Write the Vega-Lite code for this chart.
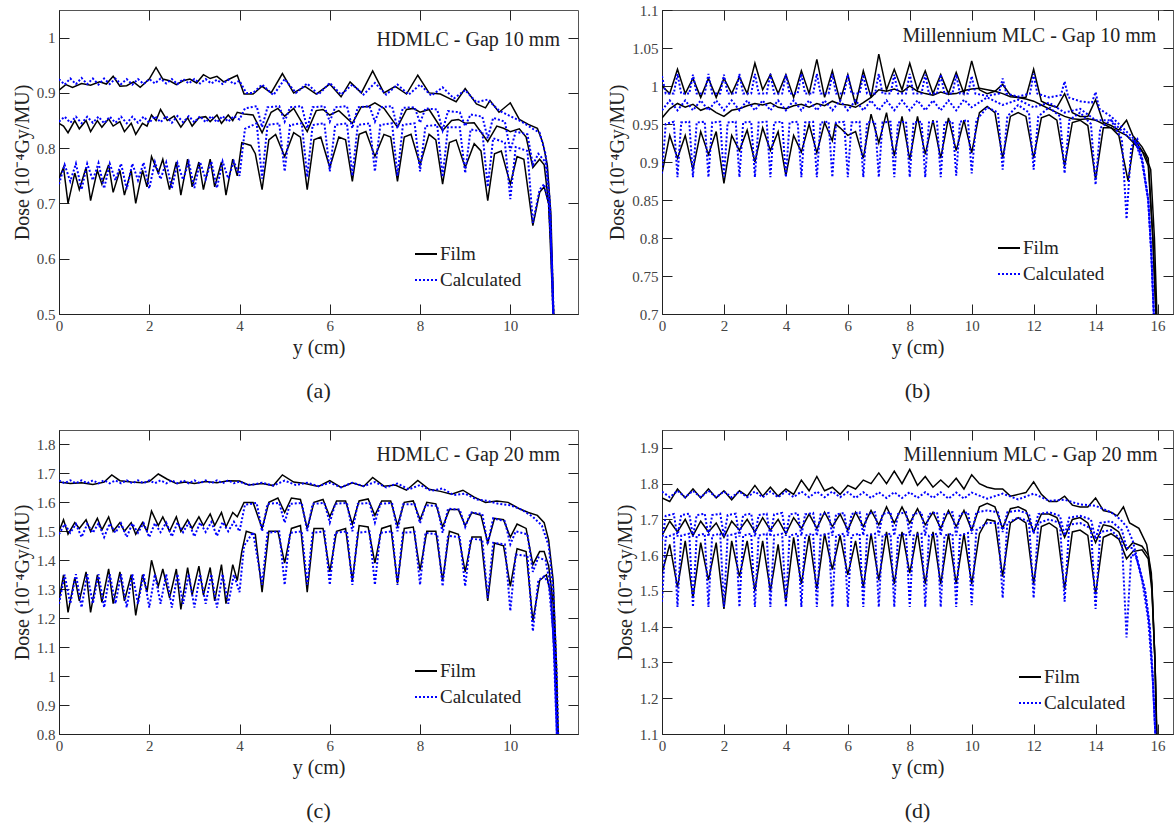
{
"$schema":"https://vega.github.io/schema/vega-lite/v6.json",
"background":"white",
"padding":{"left":11,"top":2,"right":0,"bottom":0},
"config":{
"font":"Liberation Serif",
"view":{"stroke":"#555","strokeWidth":1},
"axis":{"grid":false,"domainColor":"#222","tickColor":"#222","tickSize":-10,"labelFont":"Liberation Serif","labelFontSize":15,"labelColor":"#444","labelPadding":14,"titleFont":"Liberation Serif","titleFontSize":20,"titleFontWeight":"normal","titleColor":"#222","labelFlush":false,"labelOverlap":false,"titlePadding":4},
"legend":{"labelFont":"Liberation Serif","labelFontSize":19,"labelColor":"#222","symbolType":"stroke","symbolSize":484,"symbolStrokeWidth":1.8,"labelOffset":2,"rowPadding":4,"padding":0},
"title":{"font":"Liberation Serif","fontSize":22,"fontWeight":"normal","color":"#222","orient":"bottom","offset":24},
"text":{"font":"Liberation Serif"}
},
"columns":2,
"bounds":"flush",
"spacing":{"row":116,"column":84},
"resolve":{"scale":{"color":"independent"},"legend":{"color":"independent"}},
"datasets":{
"aF1":[{"x":0,"y":0.905},{"x":0.15,"y":0.915},{"x":0.3,"y":0.91},{"x":0.5,"y":0.917},{"x":0.7,"y":0.914},{"x":0.9,"y":0.92},{"x":1.05,"y":0.916},{"x":1.2,"y":0.93},{"x":1.35,"y":0.912},{"x":1.5,"y":0.913},{"x":1.65,"y":0.92},{"x":1.8,"y":0.91},{"x":2,"y":0.925},{"x":2.15,"y":0.946},{"x":2.3,"y":0.925},{"x":2.45,"y":0.922},{"x":2.6,"y":0.915},{"x":2.75,"y":0.922},{"x":2.9,"y":0.925},{"x":3.05,"y":0.918},{"x":3.2,"y":0.933},{"x":3.35,"y":0.926},{"x":3.5,"y":0.93},{"x":3.65,"y":0.92},{"x":3.8,"y":0.926},{"x":3.95,"y":0.932},{"x":4.1,"y":0.898},{"x":4.3,"y":0.898},{"x":4.5,"y":0.912},{"x":4.7,"y":0.9},{"x":4.95,"y":0.935},{"x":5.2,"y":0.9},{"x":5.45,"y":0.912},{"x":5.7,"y":0.898},{"x":6,"y":0.916},{"x":6.25,"y":0.893},{"x":6.45,"y":0.92},{"x":6.7,"y":0.9},{"x":6.95,"y":0.94},{"x":7.2,"y":0.9},{"x":7.45,"y":0.912},{"x":7.7,"y":0.898},{"x":7.95,"y":0.932},{"x":8.2,"y":0.9},{"x":8.45,"y":0.898},{"x":8.6,"y":0.892},{"x":8.8,"y":0.884},{"x":9,"y":0.908},{"x":9.25,"y":0.88},{"x":9.45,"y":0.873},{"x":9.55,"y":0.886},{"x":9.75,"y":0.865},{"x":10,"y":0.882},{"x":10.2,"y":0.852},{"x":10.4,"y":0.843},{"x":10.6,"y":0.836},{"x":10.72,"y":0.81},{"x":10.82,"y":0.77},{"x":10.9,"y":0.68},{"x":10.96,"y":0.5}],
"aF2":[{"x":0,"y":0.845},{"x":0.1,"y":0.84},{"x":0.2,"y":0.828},{"x":0.35,"y":0.85},{"x":0.45,"y":0.835},{"x":0.6,"y":0.85},{"x":0.7,"y":0.83},{"x":0.85,"y":0.85},{"x":0.95,"y":0.838},{"x":1.1,"y":0.853},{"x":1.2,"y":0.84},{"x":1.35,"y":0.848},{"x":1.45,"y":0.83},{"x":1.6,"y":0.845},{"x":1.7,"y":0.825},{"x":1.85,"y":0.845},{"x":1.95,"y":0.84},{"x":2.05,"y":0.86},{"x":2.15,"y":0.85},{"x":2.25,"y":0.87},{"x":2.4,"y":0.85},{"x":2.55,"y":0.858},{"x":2.7,"y":0.838},{"x":2.85,"y":0.855},{"x":2.95,"y":0.84},{"x":3.1,"y":0.855},{"x":3.25,"y":0.857},{"x":3.35,"y":0.848},{"x":3.5,"y":0.86},{"x":3.6,"y":0.845},{"x":3.75,"y":0.86},{"x":3.85,"y":0.85},{"x":3.95,"y":0.865},{"x":4.1,"y":0.862},{"x":4.3,"y":0.86},{"x":4.5,"y":0.828},{"x":4.7,"y":0.865},{"x":4.85,"y":0.872},{"x":5,"y":0.858},{"x":5.2,"y":0.872},{"x":5.5,"y":0.83},{"x":5.7,"y":0.868},{"x":5.85,"y":0.87},{"x":6,"y":0.86},{"x":6.2,"y":0.868},{"x":6.5,"y":0.845},{"x":6.7,"y":0.875},{"x":6.85,"y":0.875},{"x":7,"y":0.882},{"x":7.2,"y":0.872},{"x":7.5,"y":0.838},{"x":7.7,"y":0.87},{"x":7.85,"y":0.872},{"x":8,"y":0.865},{"x":8.2,"y":0.87},{"x":8.5,"y":0.832},{"x":8.7,"y":0.85},{"x":8.85,"y":0.852},{"x":9,"y":0.845},{"x":9.2,"y":0.846},{"x":9.5,"y":0.812},{"x":9.7,"y":0.84},{"x":9.85,"y":0.836},{"x":10,"y":0.83},{"x":10.2,"y":0.835},{"x":10.35,"y":0.82},{"x":10.5,"y":0.765},{"x":10.65,"y":0.78},{"x":10.75,"y":0.77},{"x":10.85,"y":0.7},{"x":10.95,"y":0.5}],
"aF3":[{"x":0,"y":0.745},{"x":0.1,"y":0.765},{"x":0.2,"y":0.7},{"x":0.35,"y":0.755},{"x":0.45,"y":0.725},{"x":0.6,"y":0.765},{"x":0.7,"y":0.705},{"x":0.85,"y":0.76},{"x":0.95,"y":0.735},{"x":1.1,"y":0.77},{"x":1.2,"y":0.72},{"x":1.35,"y":0.76},{"x":1.45,"y":0.715},{"x":1.6,"y":0.76},{"x":1.7,"y":0.7},{"x":1.85,"y":0.76},{"x":1.95,"y":0.73},{"x":2.05,"y":0.785},{"x":2.2,"y":0.755},{"x":2.3,"y":0.78},{"x":2.45,"y":0.725},{"x":2.6,"y":0.775},{"x":2.7,"y":0.715},{"x":2.85,"y":0.78},{"x":2.95,"y":0.73},{"x":3.1,"y":0.775},{"x":3.2,"y":0.725},{"x":3.35,"y":0.78},{"x":3.45,"y":0.73},{"x":3.6,"y":0.775},{"x":3.7,"y":0.715},{"x":3.85,"y":0.78},{"x":3.95,"y":0.75},{"x":4.05,"y":0.81},{"x":4.25,"y":0.805},{"x":4.35,"y":0.79},{"x":4.5,"y":0.725},{"x":4.65,"y":0.815},{"x":4.8,"y":0.825},{"x":5,"y":0.785},{"x":5.2,"y":0.828},{"x":5.35,"y":0.82},{"x":5.5,"y":0.725},{"x":5.65,"y":0.815},{"x":5.8,"y":0.82},{"x":6,"y":0.765},{"x":6.2,"y":0.82},{"x":6.35,"y":0.815},{"x":6.5,"y":0.74},{"x":6.65,"y":0.825},{"x":6.8,"y":0.83},{"x":7,"y":0.785},{"x":7.2,"y":0.825},{"x":7.35,"y":0.82},{"x":7.5,"y":0.74},{"x":7.65,"y":0.82},{"x":7.8,"y":0.825},{"x":8,"y":0.77},{"x":8.2,"y":0.825},{"x":8.35,"y":0.815},{"x":8.5,"y":0.735},{"x":8.65,"y":0.81},{"x":8.8,"y":0.815},{"x":9,"y":0.765},{"x":9.2,"y":0.808},{"x":9.35,"y":0.795},{"x":9.5,"y":0.705},{"x":9.65,"y":0.79},{"x":9.8,"y":0.795},{"x":10,"y":0.735},{"x":10.15,"y":0.785},{"x":10.3,"y":0.78},{"x":10.5,"y":0.66},{"x":10.65,"y":0.72},{"x":10.75,"y":0.73},{"x":10.85,"y":0.7},{"x":10.92,"y":0.6},{"x":10.96,"y":0.5}],
"aC1":[{"x":0,"y":0.925},{"x":0.125,"y":0.915},{"x":0.25,"y":0.926},{"x":0.375,"y":0.916},{"x":0.5,"y":0.927},{"x":0.625,"y":0.916},{"x":0.75,"y":0.926},{"x":0.875,"y":0.915},{"x":1,"y":0.926},{"x":1.125,"y":0.916},{"x":1.25,"y":0.926},{"x":1.375,"y":0.916},{"x":1.5,"y":0.925},{"x":1.625,"y":0.915},{"x":1.75,"y":0.925},{"x":1.875,"y":0.916},{"x":2,"y":0.925},{"x":2.125,"y":0.917},{"x":2.25,"y":0.926},{"x":2.375,"y":0.917},{"x":2.5,"y":0.925},{"x":2.625,"y":0.916},{"x":2.75,"y":0.925},{"x":2.875,"y":0.917},{"x":3,"y":0.925},{"x":3.125,"y":0.917},{"x":3.25,"y":0.925},{"x":3.375,"y":0.917},{"x":3.5,"y":0.924},{"x":3.625,"y":0.916},{"x":3.75,"y":0.924},{"x":3.875,"y":0.916},{"x":4,"y":0.922},{"x":4.15,"y":0.9},{"x":4.3,"y":0.9},{"x":4.5,"y":0.915},{"x":4.75,"y":0.896},{"x":5,"y":0.925},{"x":5.25,"y":0.9},{"x":5.5,"y":0.917},{"x":5.75,"y":0.897},{"x":6,"y":0.918},{"x":6.25,"y":0.897},{"x":6.5,"y":0.915},{"x":6.75,"y":0.897},{"x":7,"y":0.918},{"x":7.25,"y":0.897},{"x":7.5,"y":0.915},{"x":7.75,"y":0.897},{"x":8,"y":0.915},{"x":8.25,"y":0.895},{"x":8.5,"y":0.91},{"x":8.75,"y":0.89},{"x":9,"y":0.905},{"x":9.25,"y":0.883},{"x":9.5,"y":0.888},{"x":9.75,"y":0.868},{"x":10,"y":0.858},{"x":10.25,"y":0.848},{"x":10.5,"y":0.835},{"x":10.65,"y":0.828},{"x":10.78,"y":0.79},{"x":10.88,"y":0.7},{"x":10.95,"y":0.5}],
"aC2":[{"x":0,"y":0.848},{"x":0.125,"y":0.857},{"x":0.25,"y":0.846},{"x":0.375,"y":0.857},{"x":0.5,"y":0.845},{"x":0.625,"y":0.857},{"x":0.75,"y":0.846},{"x":0.875,"y":0.857},{"x":1,"y":0.845},{"x":1.125,"y":0.857},{"x":1.25,"y":0.846},{"x":1.375,"y":0.857},{"x":1.5,"y":0.845},{"x":1.625,"y":0.857},{"x":1.75,"y":0.846},{"x":1.875,"y":0.857},{"x":2,"y":0.846},{"x":2.125,"y":0.858},{"x":2.25,"y":0.847},{"x":2.375,"y":0.858},{"x":2.5,"y":0.846},{"x":2.625,"y":0.858},{"x":2.75,"y":0.847},{"x":2.875,"y":0.858},{"x":3,"y":0.847},{"x":3.125,"y":0.858},{"x":3.25,"y":0.847},{"x":3.375,"y":0.858},{"x":3.5,"y":0.847},{"x":3.625,"y":0.858},{"x":3.75,"y":0.848},{"x":3.875,"y":0.858},{"x":4,"y":0.852},{"x":4.12,"y":0.872},{"x":4.38,"y":0.876},{"x":4.5,"y":0.838},{"x":4.62,"y":0.874},{"x":4.88,"y":0.876},{"x":5,"y":0.848},{"x":5.12,"y":0.874},{"x":5.38,"y":0.876},{"x":5.5,"y":0.836},{"x":5.62,"y":0.874},{"x":5.88,"y":0.876},{"x":6,"y":0.848},{"x":6.12,"y":0.874},{"x":6.38,"y":0.876},{"x":6.5,"y":0.836},{"x":6.62,"y":0.874},{"x":6.88,"y":0.876},{"x":7,"y":0.848},{"x":7.12,"y":0.874},{"x":7.38,"y":0.876},{"x":7.5,"y":0.836},{"x":7.62,"y":0.873},{"x":7.88,"y":0.874},{"x":8,"y":0.846},{"x":8.12,"y":0.872},{"x":8.38,"y":0.87},{"x":8.5,"y":0.832},{"x":8.62,"y":0.867},{"x":8.88,"y":0.865},{"x":9,"y":0.84},{"x":9.12,"y":0.861},{"x":9.38,"y":0.857},{"x":9.5,"y":0.818},{"x":9.62,"y":0.855},{"x":9.88,"y":0.848},{"x":10,"y":0.795},{"x":10.12,"y":0.83},{"x":10.38,"y":0.825},{"x":10.5,"y":0.77},{"x":10.62,"y":0.79},{"x":10.78,"y":0.775},{"x":10.88,"y":0.69},{"x":10.95,"y":0.5}],
"aC3":[{"x":0,"y":0.735},{"x":0.125,"y":0.77},{"x":0.25,"y":0.74},{"x":0.375,"y":0.772},{"x":0.5,"y":0.725},{"x":0.625,"y":0.772},{"x":0.75,"y":0.742},{"x":0.875,"y":0.773},{"x":1,"y":0.727},{"x":1.125,"y":0.772},{"x":1.25,"y":0.742},{"x":1.375,"y":0.772},{"x":1.5,"y":0.726},{"x":1.625,"y":0.772},{"x":1.75,"y":0.742},{"x":1.875,"y":0.774},{"x":2,"y":0.727},{"x":2.125,"y":0.775},{"x":2.25,"y":0.744},{"x":2.375,"y":0.774},{"x":2.5,"y":0.727},{"x":2.625,"y":0.773},{"x":2.75,"y":0.743},{"x":2.875,"y":0.775},{"x":3,"y":0.728},{"x":3.125,"y":0.775},{"x":3.25,"y":0.744},{"x":3.375,"y":0.776},{"x":3.5,"y":0.728},{"x":3.625,"y":0.776},{"x":3.75,"y":0.745},{"x":3.875,"y":0.776},{"x":4,"y":0.75},{"x":4.12,"y":0.835},{"x":4.38,"y":0.845},{"x":4.5,"y":0.745},{"x":4.62,"y":0.842},{"x":4.88,"y":0.845},{"x":5,"y":0.758},{"x":5.12,"y":0.842},{"x":5.38,"y":0.845},{"x":5.5,"y":0.748},{"x":5.62,"y":0.842},{"x":5.88,"y":0.845},{"x":6,"y":0.758},{"x":6.12,"y":0.842},{"x":6.38,"y":0.845},{"x":6.5,"y":0.75},{"x":6.62,"y":0.842},{"x":6.88,"y":0.845},{"x":7,"y":0.758},{"x":7.12,"y":0.842},{"x":7.38,"y":0.845},{"x":7.5,"y":0.75},{"x":7.62,"y":0.842},{"x":7.88,"y":0.845},{"x":8,"y":0.758},{"x":8.12,"y":0.84},{"x":8.38,"y":0.842},{"x":8.5,"y":0.748},{"x":8.62,"y":0.838},{"x":8.88,"y":0.838},{"x":9,"y":0.755},{"x":9.12,"y":0.834},{"x":9.38,"y":0.83},{"x":9.5,"y":0.73},{"x":9.62,"y":0.818},{"x":9.88,"y":0.81},{"x":10,"y":0.708},{"x":10.12,"y":0.802},{"x":10.38,"y":0.795},{"x":10.5,"y":0.665},{"x":10.65,"y":0.725},{"x":10.75,"y":0.735},{"x":10.85,"y":0.7},{"x":10.92,"y":0.6},{"x":10.96,"y":0.5}],
"bF1":[{"x":0,"y":1.0},{"x":0.25,"y":0.99},{"x":0.5,"y":1.022},{"x":0.75,"y":0.99},{"x":1,"y":1.01},{"x":1.25,"y":0.985},{"x":1.5,"y":1.01},{"x":1.75,"y":0.985},{"x":2,"y":1.01},{"x":2.25,"y":0.99},{"x":2.5,"y":1.012},{"x":2.75,"y":0.99},{"x":3,"y":1.03},{"x":3.25,"y":0.995},{"x":3.5,"y":1.015},{"x":3.75,"y":0.99},{"x":4,"y":1.015},{"x":4.25,"y":0.985},{"x":4.5,"y":1.02},{"x":4.75,"y":0.99},{"x":5,"y":1.035},{"x":5.25,"y":0.985},{"x":5.5,"y":1.02},{"x":5.75,"y":0.98},{"x":6,"y":1.015},{"x":6.25,"y":0.975},{"x":6.5,"y":1.02},{"x":6.75,"y":0.985},{"x":7,"y":1.042},{"x":7.25,"y":0.995},{"x":7.5,"y":1.022},{"x":7.75,"y":0.995},{"x":8,"y":1.03},{"x":8.25,"y":0.995},{"x":8.5,"y":1.02},{"x":8.75,"y":0.99},{"x":9,"y":1.015},{"x":9.25,"y":0.99},{"x":9.5,"y":1.018},{"x":9.75,"y":0.99},{"x":10,"y":1.033},{"x":10.25,"y":0.995},{"x":10.5,"y":0.99},{"x":10.75,"y":0.993},{"x":11,"y":1.002},{"x":11.25,"y":0.988},{"x":11.5,"y":0.985},{"x":11.75,"y":0.985},{"x":12,"y":1.022},{"x":12.25,"y":0.98},{"x":12.5,"y":0.975},{"x":12.75,"y":0.972},{"x":13,"y":0.99},{"x":13.25,"y":0.965},{"x":13.5,"y":0.96},{"x":13.75,"y":0.96},{"x":14,"y":0.982},{"x":14.25,"y":0.952},{"x":14.5,"y":0.948},{"x":14.75,"y":0.942},{"x":15,"y":0.955},{"x":15.2,"y":0.935},{"x":15.5,"y":0.92},{"x":15.7,"y":0.905},{"x":15.85,"y":0.8},{"x":15.95,"y":0.7}],
"bF2":[{"x":0,"y":0.958},{"x":0.25,"y":0.97},{"x":0.5,"y":0.977},{"x":0.75,"y":0.972},{"x":1,"y":0.976},{"x":1.25,"y":0.968},{"x":1.5,"y":0.972},{"x":1.75,"y":0.965},{"x":2,"y":0.96},{"x":2.25,"y":0.968},{"x":2.5,"y":0.97},{"x":2.75,"y":0.974},{"x":3,"y":0.977},{"x":3.25,"y":0.975},{"x":3.5,"y":0.978},{"x":3.75,"y":0.972},{"x":4,"y":0.97},{"x":4.25,"y":0.974},{"x":4.5,"y":0.976},{"x":4.75,"y":0.972},{"x":5,"y":0.977},{"x":5.25,"y":0.974},{"x":5.5,"y":0.98},{"x":5.75,"y":0.976},{"x":6,"y":0.975},{"x":6.25,"y":0.972},{"x":6.5,"y":0.978},{"x":6.75,"y":0.985},{"x":7,"y":0.995},{"x":7.25,"y":0.993},{"x":7.5,"y":0.996},{"x":7.75,"y":0.992},{"x":8,"y":1.0},{"x":8.25,"y":0.993},{"x":8.5,"y":0.99},{"x":8.75,"y":0.988},{"x":9,"y":0.992},{"x":9.25,"y":0.989},{"x":9.5,"y":0.99},{"x":9.75,"y":0.994},{"x":10,"y":0.996},{"x":10.25,"y":0.997},{"x":10.5,"y":0.995},{"x":10.75,"y":0.993},{"x":11,"y":0.99},{"x":11.25,"y":0.986},{"x":11.5,"y":0.985},{"x":11.75,"y":0.983},{"x":12,"y":0.98},{"x":12.25,"y":0.975},{"x":12.5,"y":0.97},{"x":12.75,"y":0.965},{"x":13,"y":0.96},{"x":13.25,"y":0.957},{"x":13.5,"y":0.956},{"x":13.75,"y":0.957},{"x":14,"y":0.955},{"x":14.25,"y":0.95},{"x":14.5,"y":0.945},{"x":14.75,"y":0.94},{"x":15,"y":0.935},{"x":15.3,"y":0.922},{"x":15.6,"y":0.91},{"x":15.78,"y":0.89},{"x":15.9,"y":0.8},{"x":15.98,"y":0.7}],
"bF3":[{"x":0,"y":0.885},{"x":0.25,"y":0.935},{"x":0.5,"y":0.905},{"x":0.75,"y":0.935},{"x":1,"y":0.89},{"x":1.25,"y":0.94},{"x":1.5,"y":0.91},{"x":1.75,"y":0.94},{"x":2,"y":0.872},{"x":2.25,"y":0.935},{"x":2.5,"y":0.915},{"x":2.75,"y":0.942},{"x":3,"y":0.9},{"x":3.25,"y":0.945},{"x":3.5,"y":0.915},{"x":3.75,"y":0.94},{"x":4,"y":0.882},{"x":4.25,"y":0.935},{"x":4.5,"y":0.913},{"x":4.75,"y":0.95},{"x":5,"y":0.912},{"x":5.25,"y":0.952},{"x":5.5,"y":0.928},{"x":5.6,"y":0.95},{"x":5.75,"y":0.945},{"x":6,"y":0.935},{"x":6.25,"y":0.94},{"x":6.5,"y":0.905},{"x":6.75,"y":0.963},{"x":7,"y":0.925},{"x":7.25,"y":0.965},{"x":7.5,"y":0.908},{"x":7.75,"y":0.96},{"x":8,"y":0.903},{"x":8.25,"y":0.96},{"x":8.5,"y":0.91},{"x":8.75,"y":0.955},{"x":9,"y":0.905},{"x":9.25,"y":0.958},{"x":9.5,"y":0.915},{"x":9.75,"y":0.955},{"x":10,"y":0.912},{"x":10.25,"y":0.965},{"x":10.5,"y":0.973},{"x":10.75,"y":0.965},{"x":11,"y":0.905},{"x":11.25,"y":0.96},{"x":11.5,"y":0.965},{"x":11.75,"y":0.96},{"x":12,"y":0.905},{"x":12.25,"y":0.958},{"x":12.5,"y":0.962},{"x":12.75,"y":0.955},{"x":13,"y":0.895},{"x":13.25,"y":0.952},{"x":13.5,"y":0.955},{"x":13.75,"y":0.948},{"x":14,"y":0.877},{"x":14.25,"y":0.945},{"x":14.5,"y":0.945},{"x":14.75,"y":0.935},{"x":15.05,"y":0.875},{"x":15.25,"y":0.93},{"x":15.5,"y":0.915},{"x":15.7,"y":0.895},{"x":15.85,"y":0.8},{"x":15.95,"y":0.7}],
"bC1":[{"x":0,"y":1.013},{"x":0.12,"y":0.99},{"x":0.38,"y":0.99},{"x":0.5,"y":1.016},{"x":0.62,"y":0.99},{"x":0.88,"y":0.99},{"x":1,"y":1.015},{"x":1.12,"y":0.99},{"x":1.38,"y":0.99},{"x":1.5,"y":1.016},{"x":1.62,"y":0.99},{"x":1.88,"y":0.99},{"x":2,"y":1.015},{"x":2.12,"y":0.99},{"x":2.38,"y":0.99},{"x":2.5,"y":1.016},{"x":2.62,"y":0.99},{"x":2.88,"y":0.99},{"x":3,"y":1.016},{"x":3.12,"y":0.99},{"x":3.38,"y":0.99},{"x":3.5,"y":1.016},{"x":3.62,"y":0.99},{"x":3.88,"y":0.99},{"x":4,"y":1.015},{"x":4.12,"y":0.99},{"x":4.38,"y":0.99},{"x":4.5,"y":1.016},{"x":4.62,"y":0.99},{"x":4.88,"y":0.99},{"x":5,"y":1.016},{"x":5.12,"y":0.99},{"x":5.38,"y":0.99},{"x":5.5,"y":1.016},{"x":5.62,"y":0.99},{"x":5.88,"y":0.99},{"x":6,"y":1.015},{"x":6.12,"y":0.99},{"x":6.38,"y":0.99},{"x":6.5,"y":1.015},{"x":6.62,"y":0.99},{"x":6.88,"y":0.99},{"x":7,"y":1.016},{"x":7.12,"y":0.99},{"x":7.38,"y":0.99},{"x":7.5,"y":1.015},{"x":7.62,"y":0.99},{"x":7.88,"y":0.99},{"x":8,"y":1.016},{"x":8.12,"y":0.99},{"x":8.38,"y":0.99},{"x":8.5,"y":1.015},{"x":8.62,"y":0.99},{"x":8.88,"y":0.99},{"x":9,"y":1.015},{"x":9.12,"y":0.99},{"x":9.38,"y":0.99},{"x":9.5,"y":1.015},{"x":9.62,"y":0.99},{"x":9.88,"y":0.99},{"x":10,"y":1.013},{"x":10.12,"y":0.99},{"x":10.5,"y":0.987},{"x":10.88,"y":0.99},{"x":11,"y":1.01},{"x":11.12,"y":0.99},{"x":11.5,"y":0.986},{"x":11.88,"y":0.99},{"x":12,"y":1.016},{"x":12.12,"y":0.99},{"x":12.5,"y":0.985},{"x":12.88,"y":0.988},{"x":13,"y":1.006},{"x":13.12,"y":0.985},{"x":13.5,"y":0.98},{"x":13.88,"y":0.978},{"x":14,"y":0.992},{"x":14.12,"y":0.97},{"x":14.5,"y":0.96},{"x":14.88,"y":0.945},{"x":15,"y":0.94},{"x":15.25,"y":0.93},{"x":15.5,"y":0.905},{"x":15.7,"y":0.85},{"x":15.8,"y":0.78},{"x":15.88,"y":0.7}],
"bC2":[{"x":0,"y":0.968},{"x":0.25,"y":0.981},{"x":0.5,"y":0.968},{"x":0.75,"y":0.981},{"x":1,"y":0.968},{"x":1.25,"y":0.981},{"x":1.5,"y":0.968},{"x":1.75,"y":0.981},{"x":2,"y":0.968},{"x":2.25,"y":0.981},{"x":2.5,"y":0.968},{"x":2.75,"y":0.981},{"x":3,"y":0.968},{"x":3.25,"y":0.981},{"x":3.5,"y":0.968},{"x":3.75,"y":0.981},{"x":4,"y":0.968},{"x":4.25,"y":0.981},{"x":4.5,"y":0.968},{"x":4.75,"y":0.981},{"x":5,"y":0.968},{"x":5.25,"y":0.981},{"x":5.5,"y":0.968},{"x":5.75,"y":0.981},{"x":6,"y":0.968},{"x":6.25,"y":0.981},{"x":6.5,"y":0.968},{"x":6.75,"y":0.981},{"x":7,"y":0.968},{"x":7.25,"y":0.981},{"x":7.5,"y":0.968},{"x":7.75,"y":0.981},{"x":8,"y":0.968},{"x":8.25,"y":0.981},{"x":8.5,"y":0.968},{"x":8.75,"y":0.981},{"x":9,"y":0.968},{"x":9.25,"y":0.981},{"x":9.5,"y":0.968},{"x":9.75,"y":0.982},{"x":10,"y":0.972},{"x":10.5,"y":0.985},{"x":11,"y":0.975},{"x":11.5,"y":0.982},{"x":12,"y":0.972},{"x":12.5,"y":0.978},{"x":13,"y":0.965},{"x":13.5,"y":0.97},{"x":14,"y":0.955},{"x":14.5,"y":0.955},{"x":15,"y":0.935},{"x":15.3,"y":0.925},{"x":15.5,"y":0.9},{"x":15.7,"y":0.85},{"x":15.8,"y":0.78},{"x":15.88,"y":0.7}],
"bC3":[{"x":0,"y":0.885},{"x":0.12,"y":0.95},{"x":0.38,"y":0.953},{"x":0.5,"y":0.88},{"x":0.62,"y":0.952},{"x":0.88,"y":0.953},{"x":1,"y":0.88},{"x":1.12,"y":0.952},{"x":1.38,"y":0.953},{"x":1.5,"y":0.88},{"x":1.62,"y":0.952},{"x":1.88,"y":0.953},{"x":2,"y":0.88},{"x":2.12,"y":0.952},{"x":2.38,"y":0.953},{"x":2.5,"y":0.88},{"x":2.62,"y":0.952},{"x":2.88,"y":0.953},{"x":3,"y":0.88},{"x":3.12,"y":0.952},{"x":3.38,"y":0.953},{"x":3.5,"y":0.88},{"x":3.62,"y":0.952},{"x":3.88,"y":0.953},{"x":4,"y":0.88},{"x":4.12,"y":0.952},{"x":4.38,"y":0.953},{"x":4.5,"y":0.88},{"x":4.62,"y":0.952},{"x":4.88,"y":0.953},{"x":5,"y":0.88},{"x":5.12,"y":0.952},{"x":5.38,"y":0.953},{"x":5.5,"y":0.88},{"x":5.62,"y":0.952},{"x":5.88,"y":0.953},{"x":6,"y":0.88},{"x":6.12,"y":0.952},{"x":6.38,"y":0.953},{"x":6.5,"y":0.88},{"x":6.62,"y":0.952},{"x":6.88,"y":0.953},{"x":7,"y":0.88},{"x":7.12,"y":0.952},{"x":7.38,"y":0.953},{"x":7.5,"y":0.88},{"x":7.62,"y":0.952},{"x":7.88,"y":0.953},{"x":8,"y":0.88},{"x":8.12,"y":0.952},{"x":8.38,"y":0.953},{"x":8.5,"y":0.88},{"x":8.62,"y":0.952},{"x":8.88,"y":0.953},{"x":9,"y":0.88},{"x":9.12,"y":0.952},{"x":9.38,"y":0.953},{"x":9.5,"y":0.882},{"x":9.62,"y":0.953},{"x":9.88,"y":0.955},{"x":10,"y":0.885},{"x":10.15,"y":0.955},{"x":10.5,"y":0.972},{"x":10.85,"y":0.965},{"x":11,"y":0.89},{"x":11.15,"y":0.96},{"x":11.5,"y":0.975},{"x":11.85,"y":0.965},{"x":12,"y":0.89},{"x":12.15,"y":0.96},{"x":12.5,"y":0.972},{"x":12.85,"y":0.96},{"x":13,"y":0.885},{"x":13.15,"y":0.955},{"x":13.5,"y":0.965},{"x":13.85,"y":0.95},{"x":14,"y":0.87},{"x":14.15,"y":0.945},{"x":14.5,"y":0.955},{"x":14.85,"y":0.93},{"x":15,"y":0.825},{"x":15.15,"y":0.92},{"x":15.35,"y":0.93},{"x":15.5,"y":0.905},{"x":15.7,"y":0.85},{"x":15.8,"y":0.78},{"x":15.88,"y":0.7}],
"cF1":[{"x":0,"y":1.67},{"x":0.25,"y":1.665},{"x":0.5,"y":1.668},{"x":0.75,"y":1.662},{"x":1,"y":1.67},{"x":1.17,"y":1.695},{"x":1.35,"y":1.675},{"x":1.6,"y":1.67},{"x":1.85,"y":1.668},{"x":2,"y":1.672},{"x":2.2,"y":1.698},{"x":2.4,"y":1.68},{"x":2.6,"y":1.665},{"x":2.8,"y":1.67},{"x":3,"y":1.665},{"x":3.25,"y":1.672},{"x":3.5,"y":1.668},{"x":3.75,"y":1.675},{"x":4,"y":1.674},{"x":4.2,"y":1.66},{"x":4.5,"y":1.665},{"x":4.75,"y":1.658},{"x":4.95,"y":1.695},{"x":5.2,"y":1.67},{"x":5.45,"y":1.665},{"x":5.75,"y":1.655},{"x":6,"y":1.675},{"x":6.25,"y":1.652},{"x":6.5,"y":1.668},{"x":6.75,"y":1.655},{"x":6.95,"y":1.686},{"x":7.2,"y":1.656},{"x":7.45,"y":1.66},{"x":7.7,"y":1.642},{"x":7.95,"y":1.676},{"x":8.2,"y":1.645},{"x":8.45,"y":1.638},{"x":8.7,"y":1.628},{"x":8.95,"y":1.642},{"x":9.2,"y":1.618},{"x":9.45,"y":1.6},{"x":9.7,"y":1.605},{"x":9.95,"y":1.6},{"x":10.2,"y":1.578},{"x":10.4,"y":1.565},{"x":10.6,"y":1.555},{"x":10.75,"y":1.53},{"x":10.85,"y":1.47},{"x":10.95,"y":1.33},{"x":11.02,"y":1.05},{"x":11.06,"y":0.8}],
"cF2":[{"x":0,"y":1.5},{"x":0.1,"y":1.54},{"x":0.2,"y":1.49},{"x":0.35,"y":1.53},{"x":0.45,"y":1.51},{"x":0.6,"y":1.54},{"x":0.7,"y":1.5},{"x":0.85,"y":1.545},{"x":0.95,"y":1.505},{"x":1.1,"y":1.55},{"x":1.2,"y":1.5},{"x":1.35,"y":1.53},{"x":1.45,"y":1.5},{"x":1.6,"y":1.53},{"x":1.7,"y":1.49},{"x":1.85,"y":1.53},{"x":1.95,"y":1.5},{"x":2.05,"y":1.57},{"x":2.2,"y":1.52},{"x":2.3,"y":1.55},{"x":2.45,"y":1.5},{"x":2.6,"y":1.55},{"x":2.7,"y":1.5},{"x":2.85,"y":1.54},{"x":2.95,"y":1.51},{"x":3.1,"y":1.55},{"x":3.2,"y":1.52},{"x":3.35,"y":1.56},{"x":3.45,"y":1.52},{"x":3.6,"y":1.565},{"x":3.7,"y":1.515},{"x":3.85,"y":1.565},{"x":3.95,"y":1.55},{"x":4.1,"y":1.6},{"x":4.3,"y":1.6},{"x":4.5,"y":1.51},{"x":4.65,"y":1.6},{"x":4.85,"y":1.615},{"x":5,"y":1.565},{"x":5.15,"y":1.615},{"x":5.35,"y":1.61},{"x":5.5,"y":1.51},{"x":5.65,"y":1.6},{"x":5.85,"y":1.61},{"x":6,"y":1.55},{"x":6.15,"y":1.605},{"x":6.35,"y":1.605},{"x":6.5,"y":1.525},{"x":6.65,"y":1.605},{"x":6.85,"y":1.612},{"x":7,"y":1.555},{"x":7.15,"y":1.605},{"x":7.35,"y":1.605},{"x":7.5,"y":1.52},{"x":7.65,"y":1.6},{"x":7.85,"y":1.605},{"x":8,"y":1.54},{"x":8.15,"y":1.6},{"x":8.35,"y":1.595},{"x":8.5,"y":1.515},{"x":8.65,"y":1.575},{"x":8.85,"y":1.575},{"x":9,"y":1.52},{"x":9.15,"y":1.565},{"x":9.35,"y":1.555},{"x":9.5,"y":1.46},{"x":9.65,"y":1.545},{"x":9.85,"y":1.54},{"x":10,"y":1.48},{"x":10.15,"y":1.525},{"x":10.35,"y":1.51},{"x":10.5,"y":1.385},{"x":10.65,"y":1.43},{"x":10.75,"y":1.43},{"x":10.85,"y":1.38},{"x":10.95,"y":1.25},{"x":11.02,"y":1.0},{"x":11.05,"y":0.8}],
"cF3":[{"x":0,"y":1.26},{"x":0.1,"y":1.35},{"x":0.2,"y":1.22},{"x":0.35,"y":1.34},{"x":0.45,"y":1.26},{"x":0.6,"y":1.36},{"x":0.7,"y":1.22},{"x":0.85,"y":1.35},{"x":0.95,"y":1.255},{"x":1.1,"y":1.37},{"x":1.2,"y":1.25},{"x":1.35,"y":1.36},{"x":1.45,"y":1.26},{"x":1.6,"y":1.35},{"x":1.7,"y":1.21},{"x":1.85,"y":1.35},{"x":1.95,"y":1.29},{"x":2.05,"y":1.4},{"x":2.2,"y":1.31},{"x":2.3,"y":1.37},{"x":2.45,"y":1.27},{"x":2.6,"y":1.37},{"x":2.7,"y":1.23},{"x":2.85,"y":1.375},{"x":2.95,"y":1.28},{"x":3.1,"y":1.38},{"x":3.2,"y":1.28},{"x":3.35,"y":1.375},{"x":3.45,"y":1.26},{"x":3.6,"y":1.385},{"x":3.7,"y":1.25},{"x":3.85,"y":1.385},{"x":3.95,"y":1.33},{"x":4.05,"y":1.43},{"x":4.15,"y":1.5},{"x":4.35,"y":1.49},{"x":4.5,"y":1.29},{"x":4.65,"y":1.5},{"x":4.85,"y":1.5},{"x":5,"y":1.39},{"x":5.15,"y":1.51},{"x":5.35,"y":1.52},{"x":5.5,"y":1.29},{"x":5.65,"y":1.51},{"x":5.85,"y":1.51},{"x":6,"y":1.36},{"x":6.15,"y":1.5},{"x":6.35,"y":1.51},{"x":6.5,"y":1.33},{"x":6.65,"y":1.52},{"x":6.85,"y":1.515},{"x":7,"y":1.39},{"x":7.15,"y":1.51},{"x":7.35,"y":1.52},{"x":7.5,"y":1.32},{"x":7.65,"y":1.51},{"x":7.85,"y":1.515},{"x":8,"y":1.365},{"x":8.15,"y":1.5},{"x":8.35,"y":1.5},{"x":8.5,"y":1.33},{"x":8.65,"y":1.5},{"x":8.85,"y":1.49},{"x":9,"y":1.36},{"x":9.15,"y":1.48},{"x":9.35,"y":1.48},{"x":9.5,"y":1.26},{"x":9.65,"y":1.46},{"x":9.85,"y":1.45},{"x":10,"y":1.31},{"x":10.15,"y":1.44},{"x":10.35,"y":1.43},{"x":10.5,"y":1.19},{"x":10.65,"y":1.33},{"x":10.8,"y":1.35},{"x":10.9,"y":1.28},{"x":11,"y":1.0},{"x":11.05,"y":0.8}],
"cC1":[{"x":0,"y":1.676},{"x":0.125,"y":1.666},{"x":0.25,"y":1.676},{"x":0.375,"y":1.666},{"x":0.5,"y":1.676},{"x":0.625,"y":1.666},{"x":0.75,"y":1.676},{"x":0.875,"y":1.666},{"x":1,"y":1.676},{"x":1.125,"y":1.666},{"x":1.25,"y":1.676},{"x":1.375,"y":1.666},{"x":1.5,"y":1.676},{"x":1.625,"y":1.666},{"x":1.75,"y":1.676},{"x":1.875,"y":1.666},{"x":2,"y":1.676},{"x":2.125,"y":1.666},{"x":2.25,"y":1.676},{"x":2.375,"y":1.666},{"x":2.5,"y":1.676},{"x":2.625,"y":1.666},{"x":2.75,"y":1.676},{"x":2.875,"y":1.666},{"x":3,"y":1.676},{"x":3.125,"y":1.666},{"x":3.25,"y":1.676},{"x":3.375,"y":1.666},{"x":3.5,"y":1.676},{"x":3.625,"y":1.666},{"x":3.75,"y":1.676},{"x":3.875,"y":1.666},{"x":4,"y":1.672},{"x":4.1,"y":1.665},{"x":4.25,"y":1.66},{"x":4.5,"y":1.668},{"x":4.75,"y":1.658},{"x":5,"y":1.675},{"x":5.25,"y":1.66},{"x":5.5,"y":1.668},{"x":5.75,"y":1.656},{"x":6,"y":1.668},{"x":6.25,"y":1.652},{"x":6.5,"y":1.668},{"x":6.75,"y":1.656},{"x":7,"y":1.67},{"x":7.25,"y":1.652},{"x":7.5,"y":1.665},{"x":7.75,"y":1.645},{"x":8,"y":1.66},{"x":8.25,"y":1.64},{"x":8.5,"y":1.648},{"x":8.75,"y":1.625},{"x":9,"y":1.63},{"x":9.25,"y":1.61},{"x":9.5,"y":1.605},{"x":9.75,"y":1.595},{"x":10,"y":1.59},{"x":10.25,"y":1.575},{"x":10.5,"y":1.55},{"x":10.7,"y":1.52},{"x":10.85,"y":1.45},{"x":10.95,"y":1.3},{"x":11.03,"y":1.0},{"x":11.06,"y":0.8}],
"cC2":[{"x":0,"y":1.49},{"x":0.125,"y":1.525},{"x":0.25,"y":1.495},{"x":0.375,"y":1.525},{"x":0.5,"y":1.48},{"x":0.625,"y":1.525},{"x":0.75,"y":1.495},{"x":0.875,"y":1.527},{"x":1,"y":1.48},{"x":1.125,"y":1.527},{"x":1.25,"y":1.495},{"x":1.375,"y":1.527},{"x":1.5,"y":1.48},{"x":1.625,"y":1.527},{"x":1.75,"y":1.495},{"x":1.875,"y":1.528},{"x":2,"y":1.48},{"x":2.125,"y":1.528},{"x":2.25,"y":1.497},{"x":2.375,"y":1.53},{"x":2.5,"y":1.482},{"x":2.625,"y":1.53},{"x":2.75,"y":1.497},{"x":2.875,"y":1.53},{"x":3,"y":1.482},{"x":3.125,"y":1.53},{"x":3.25,"y":1.498},{"x":3.375,"y":1.532},{"x":3.5,"y":1.484},{"x":3.625,"y":1.532},{"x":3.75,"y":1.5},{"x":3.875,"y":1.533},{"x":4,"y":1.5},{"x":4.12,"y":1.592},{"x":4.38,"y":1.598},{"x":4.5,"y":1.5},{"x":4.62,"y":1.595},{"x":4.88,"y":1.598},{"x":5,"y":1.53},{"x":5.12,"y":1.595},{"x":5.38,"y":1.598},{"x":5.5,"y":1.5},{"x":5.62,"y":1.595},{"x":5.88,"y":1.598},{"x":6,"y":1.53},{"x":6.12,"y":1.595},{"x":6.38,"y":1.598},{"x":6.5,"y":1.5},{"x":6.62,"y":1.595},{"x":6.88,"y":1.598},{"x":7,"y":1.53},{"x":7.12,"y":1.595},{"x":7.38,"y":1.598},{"x":7.5,"y":1.5},{"x":7.62,"y":1.593},{"x":7.88,"y":1.594},{"x":8,"y":1.528},{"x":8.12,"y":1.59},{"x":8.38,"y":1.588},{"x":8.5,"y":1.495},{"x":8.62,"y":1.578},{"x":8.88,"y":1.575},{"x":9,"y":1.515},{"x":9.12,"y":1.565},{"x":9.38,"y":1.56},{"x":9.5,"y":1.455},{"x":9.62,"y":1.545},{"x":9.88,"y":1.535},{"x":10,"y":1.455},{"x":10.12,"y":1.5},{"x":10.38,"y":1.49},{"x":10.5,"y":1.36},{"x":10.62,"y":1.41},{"x":10.78,"y":1.4},{"x":10.88,"y":1.32},{"x":10.97,"y":1.1},{"x":11.03,"y":0.8}],
"cC3":[{"x":0,"y":1.25},{"x":0.125,"y":1.35},{"x":0.25,"y":1.25},{"x":0.375,"y":1.352},{"x":0.5,"y":1.237},{"x":0.625,"y":1.352},{"x":0.75,"y":1.25},{"x":0.875,"y":1.352},{"x":1,"y":1.237},{"x":1.125,"y":1.352},{"x":1.25,"y":1.25},{"x":1.375,"y":1.352},{"x":1.5,"y":1.237},{"x":1.625,"y":1.352},{"x":1.75,"y":1.25},{"x":1.875,"y":1.352},{"x":2,"y":1.237},{"x":2.125,"y":1.352},{"x":2.25,"y":1.25},{"x":2.375,"y":1.352},{"x":2.5,"y":1.237},{"x":2.625,"y":1.352},{"x":2.75,"y":1.25},{"x":2.875,"y":1.352},{"x":3,"y":1.237},{"x":3.125,"y":1.352},{"x":3.25,"y":1.25},{"x":3.375,"y":1.352},{"x":3.5,"y":1.237},{"x":3.625,"y":1.352},{"x":3.75,"y":1.25},{"x":3.875,"y":1.35},{"x":4,"y":1.29},{"x":4.1,"y":1.45},{"x":4.3,"y":1.497},{"x":4.5,"y":1.315},{"x":4.62,"y":1.495},{"x":4.88,"y":1.5},{"x":5,"y":1.315},{"x":5.12,"y":1.495},{"x":5.38,"y":1.5},{"x":5.5,"y":1.315},{"x":5.62,"y":1.495},{"x":5.88,"y":1.5},{"x":6,"y":1.315},{"x":6.12,"y":1.495},{"x":6.38,"y":1.5},{"x":6.5,"y":1.315},{"x":6.62,"y":1.495},{"x":6.88,"y":1.5},{"x":7,"y":1.315},{"x":7.12,"y":1.495},{"x":7.38,"y":1.5},{"x":7.5,"y":1.315},{"x":7.62,"y":1.495},{"x":7.88,"y":1.498},{"x":8,"y":1.315},{"x":8.12,"y":1.495},{"x":8.38,"y":1.49},{"x":8.5,"y":1.31},{"x":8.62,"y":1.485},{"x":8.88,"y":1.48},{"x":9,"y":1.31},{"x":9.12,"y":1.475},{"x":9.38,"y":1.47},{"x":9.5,"y":1.27},{"x":9.62,"y":1.46},{"x":9.88,"y":1.455},{"x":10,"y":1.225},{"x":10.12,"y":1.42},{"x":10.38,"y":1.415},{"x":10.5,"y":1.155},{"x":10.62,"y":1.33},{"x":10.75,"y":1.345},{"x":10.85,"y":1.32},{"x":10.95,"y":1.15},{"x":11.03,"y":0.8}],
"dF1":[{"x":0,"y":1.76},{"x":0.25,"y":1.75},{"x":0.5,"y":1.785},{"x":0.75,"y":1.76},{"x":1,"y":1.785},{"x":1.25,"y":1.76},{"x":1.5,"y":1.785},{"x":1.75,"y":1.76},{"x":2,"y":1.78},{"x":2.25,"y":1.755},{"x":2.5,"y":1.78},{"x":2.75,"y":1.765},{"x":3,"y":1.795},{"x":3.25,"y":1.765},{"x":3.5,"y":1.79},{"x":3.75,"y":1.765},{"x":4,"y":1.785},{"x":4.25,"y":1.77},{"x":4.5,"y":1.81},{"x":4.75,"y":1.78},{"x":5,"y":1.82},{"x":5.25,"y":1.78},{"x":5.5,"y":1.79},{"x":5.75,"y":1.77},{"x":6,"y":1.795},{"x":6.25,"y":1.785},{"x":6.5,"y":1.81},{"x":6.75,"y":1.8},{"x":7,"y":1.83},{"x":7.25,"y":1.8},{"x":7.5,"y":1.835},{"x":7.75,"y":1.8},{"x":8,"y":1.84},{"x":8.25,"y":1.795},{"x":8.5,"y":1.82},{"x":8.75,"y":1.79},{"x":9,"y":1.81},{"x":9.25,"y":1.79},{"x":9.5,"y":1.815},{"x":9.75,"y":1.785},{"x":10,"y":1.825},{"x":10.25,"y":1.8},{"x":10.5,"y":1.79},{"x":10.75,"y":1.785},{"x":11,"y":1.785},{"x":11.25,"y":1.765},{"x":11.5,"y":1.77},{"x":11.75,"y":1.775},{"x":12,"y":1.805},{"x":12.25,"y":1.77},{"x":12.5,"y":1.75},{"x":12.75,"y":1.75},{"x":13,"y":1.765},{"x":13.25,"y":1.74},{"x":13.5,"y":1.735},{"x":13.75,"y":1.735},{"x":14,"y":1.76},{"x":14.25,"y":1.725},{"x":14.5,"y":1.72},{"x":14.7,"y":1.71},{"x":14.9,"y":1.735},{"x":15.1,"y":1.69},{"x":15.4,"y":1.675},{"x":15.65,"y":1.63},{"x":15.8,"y":1.55},{"x":15.92,"y":1.3},{"x":15.98,"y":1.1}],
"dF2":[{"x":0,"y":1.655},{"x":0.25,"y":1.695},{"x":0.5,"y":1.665},{"x":0.75,"y":1.7},{"x":1,"y":1.655},{"x":1.25,"y":1.695},{"x":1.5,"y":1.665},{"x":1.75,"y":1.69},{"x":2,"y":1.65},{"x":2.25,"y":1.695},{"x":2.5,"y":1.67},{"x":2.75,"y":1.7},{"x":3,"y":1.665},{"x":3.25,"y":1.705},{"x":3.5,"y":1.67},{"x":3.75,"y":1.7},{"x":4,"y":1.66},{"x":4.25,"y":1.705},{"x":4.5,"y":1.675},{"x":4.75,"y":1.715},{"x":5,"y":1.675},{"x":5.25,"y":1.72},{"x":5.5,"y":1.68},{"x":5.75,"y":1.715},{"x":6,"y":1.67},{"x":6.25,"y":1.72},{"x":6.5,"y":1.68},{"x":6.75,"y":1.725},{"x":7,"y":1.685},{"x":7.25,"y":1.735},{"x":7.5,"y":1.69},{"x":7.75,"y":1.735},{"x":8,"y":1.69},{"x":8.25,"y":1.73},{"x":8.5,"y":1.685},{"x":8.75,"y":1.72},{"x":9,"y":1.675},{"x":9.25,"y":1.725},{"x":9.5,"y":1.68},{"x":9.75,"y":1.725},{"x":10,"y":1.67},{"x":10.25,"y":1.735},{"x":10.5,"y":1.745},{"x":10.75,"y":1.735},{"x":11,"y":1.675},{"x":11.25,"y":1.73},{"x":11.5,"y":1.735},{"x":11.75,"y":1.725},{"x":12,"y":1.665},{"x":12.25,"y":1.715},{"x":12.5,"y":1.715},{"x":12.75,"y":1.705},{"x":13,"y":1.65},{"x":13.25,"y":1.7},{"x":13.5,"y":1.705},{"x":13.75,"y":1.69},{"x":14,"y":1.635},{"x":14.25,"y":1.685},{"x":14.5,"y":1.68},{"x":14.75,"y":1.665},{"x":15,"y":1.615},{"x":15.2,"y":1.635},{"x":15.5,"y":1.625},{"x":15.7,"y":1.6},{"x":15.82,"y":1.52},{"x":15.92,"y":1.3},{"x":15.97,"y":1.1}],
"dF3":[{"x":0,"y":1.55},{"x":0.25,"y":1.63},{"x":0.5,"y":1.51},{"x":0.75,"y":1.64},{"x":1,"y":1.48},{"x":1.25,"y":1.635},{"x":1.5,"y":1.53},{"x":1.75,"y":1.635},{"x":2,"y":1.45},{"x":2.25,"y":1.64},{"x":2.5,"y":1.54},{"x":2.75,"y":1.64},{"x":3,"y":1.5},{"x":3.25,"y":1.64},{"x":3.5,"y":1.5},{"x":3.75,"y":1.63},{"x":4,"y":1.47},{"x":4.25,"y":1.65},{"x":4.5,"y":1.52},{"x":4.75,"y":1.655},{"x":5,"y":1.505},{"x":5.25,"y":1.66},{"x":5.5,"y":1.56},{"x":5.75,"y":1.655},{"x":6,"y":1.545},{"x":6.25,"y":1.64},{"x":6.5,"y":1.51},{"x":6.75,"y":1.66},{"x":7,"y":1.53},{"x":7.25,"y":1.665},{"x":7.5,"y":1.52},{"x":7.75,"y":1.665},{"x":8,"y":1.55},{"x":8.25,"y":1.665},{"x":8.5,"y":1.52},{"x":8.75,"y":1.665},{"x":9,"y":1.52},{"x":9.25,"y":1.66},{"x":9.5,"y":1.52},{"x":9.75,"y":1.66},{"x":10,"y":1.52},{"x":10.25,"y":1.66},{"x":10.5,"y":1.7},{"x":10.75,"y":1.695},{"x":11,"y":1.54},{"x":11.25,"y":1.69},{"x":11.5,"y":1.705},{"x":11.75,"y":1.69},{"x":12,"y":1.52},{"x":12.25,"y":1.68},{"x":12.5,"y":1.69},{"x":12.75,"y":1.675},{"x":13,"y":1.505},{"x":13.25,"y":1.665},{"x":13.5,"y":1.67},{"x":13.75,"y":1.655},{"x":14,"y":1.49},{"x":14.25,"y":1.65},{"x":14.5,"y":1.66},{"x":14.75,"y":1.645},{"x":15,"y":1.59},{"x":15.2,"y":1.61},{"x":15.5,"y":1.615},{"x":15.7,"y":1.59},{"x":15.82,"y":1.5},{"x":15.92,"y":1.3},{"x":15.97,"y":1.1}],
"dC1":[{"x":0,"y":1.778},{"x":0.25,"y":1.762},{"x":0.5,"y":1.78},{"x":0.75,"y":1.762},{"x":1,"y":1.78},{"x":1.25,"y":1.762},{"x":1.5,"y":1.78},{"x":1.75,"y":1.762},{"x":2,"y":1.778},{"x":2.25,"y":1.762},{"x":2.5,"y":1.778},{"x":2.75,"y":1.762},{"x":3,"y":1.778},{"x":3.25,"y":1.762},{"x":3.5,"y":1.778},{"x":3.75,"y":1.762},{"x":4,"y":1.778},{"x":4.25,"y":1.762},{"x":4.5,"y":1.778},{"x":4.75,"y":1.762},{"x":5,"y":1.778},{"x":5.25,"y":1.762},{"x":5.5,"y":1.778},{"x":5.75,"y":1.762},{"x":6,"y":1.776},{"x":6.25,"y":1.76},{"x":6.5,"y":1.776},{"x":6.75,"y":1.76},{"x":7,"y":1.776},{"x":7.25,"y":1.76},{"x":7.5,"y":1.776},{"x":7.75,"y":1.76},{"x":8,"y":1.776},{"x":8.25,"y":1.76},{"x":8.5,"y":1.776},{"x":8.75,"y":1.76},{"x":9,"y":1.776},{"x":9.25,"y":1.758},{"x":9.5,"y":1.775},{"x":9.75,"y":1.758},{"x":10,"y":1.775},{"x":10.5,"y":1.758},{"x":11,"y":1.772},{"x":11.5,"y":1.756},{"x":12,"y":1.772},{"x":12.5,"y":1.752},{"x":13,"y":1.755},{"x":13.5,"y":1.742},{"x":14,"y":1.738},{"x":14.5,"y":1.72},{"x":14.8,"y":1.7},{"x":15,"y":1.68},{"x":15.2,"y":1.64},{"x":15.4,"y":1.57},{"x":15.6,"y":1.5},{"x":15.75,"y":1.4},{"x":15.85,"y":1.25},{"x":15.93,"y":1.1}],
"dC2":[{"x":0,"y":1.64},{"x":0.12,"y":1.71},{"x":0.38,"y":1.715},{"x":0.5,"y":1.652},{"x":0.62,"y":1.712},{"x":0.88,"y":1.716},{"x":1,"y":1.652},{"x":1.12,"y":1.712},{"x":1.38,"y":1.716},{"x":1.5,"y":1.652},{"x":1.62,"y":1.712},{"x":1.88,"y":1.716},{"x":2,"y":1.652},{"x":2.12,"y":1.712},{"x":2.38,"y":1.716},{"x":2.5,"y":1.652},{"x":2.62,"y":1.712},{"x":2.88,"y":1.716},{"x":3,"y":1.652},{"x":3.12,"y":1.712},{"x":3.38,"y":1.716},{"x":3.5,"y":1.652},{"x":3.62,"y":1.714},{"x":3.88,"y":1.718},{"x":4,"y":1.654},{"x":4.12,"y":1.714},{"x":4.38,"y":1.718},{"x":4.5,"y":1.654},{"x":4.62,"y":1.714},{"x":4.88,"y":1.718},{"x":5,"y":1.654},{"x":5.12,"y":1.714},{"x":5.38,"y":1.718},{"x":5.5,"y":1.654},{"x":5.62,"y":1.714},{"x":5.88,"y":1.718},{"x":6,"y":1.654},{"x":6.12,"y":1.715},{"x":6.38,"y":1.72},{"x":6.5,"y":1.655},{"x":6.62,"y":1.715},{"x":6.88,"y":1.72},{"x":7,"y":1.655},{"x":7.12,"y":1.715},{"x":7.38,"y":1.72},{"x":7.5,"y":1.655},{"x":7.62,"y":1.715},{"x":7.88,"y":1.72},{"x":8,"y":1.655},{"x":8.12,"y":1.715},{"x":8.38,"y":1.72},{"x":8.5,"y":1.655},{"x":8.62,"y":1.715},{"x":8.88,"y":1.72},{"x":9,"y":1.655},{"x":9.12,"y":1.715},{"x":9.38,"y":1.72},{"x":9.5,"y":1.655},{"x":9.62,"y":1.715},{"x":9.88,"y":1.72},{"x":10,"y":1.66},{"x":10.15,"y":1.72},{"x":10.5,"y":1.725},{"x":10.85,"y":1.72},{"x":11,"y":1.665},{"x":11.15,"y":1.72},{"x":11.5,"y":1.725},{"x":11.85,"y":1.715},{"x":12,"y":1.66},{"x":12.15,"y":1.715},{"x":12.5,"y":1.72},{"x":12.85,"y":1.71},{"x":13,"y":1.655},{"x":13.15,"y":1.705},{"x":13.5,"y":1.71},{"x":13.85,"y":1.7},{"x":14,"y":1.645},{"x":14.15,"y":1.69},{"x":14.5,"y":1.695},{"x":14.85,"y":1.67},{"x":15,"y":1.62},{"x":15.2,"y":1.62},{"x":15.4,"y":1.57},{"x":15.6,"y":1.5},{"x":15.75,"y":1.4},{"x":15.85,"y":1.25},{"x":15.93,"y":1.1}],
"dC3":[{"x":0,"y":1.47},{"x":0.12,"y":1.65},{"x":0.38,"y":1.658},{"x":0.5,"y":1.455},{"x":0.62,"y":1.655},{"x":0.88,"y":1.66},{"x":1,"y":1.455},{"x":1.12,"y":1.655},{"x":1.38,"y":1.66},{"x":1.5,"y":1.455},{"x":1.62,"y":1.655},{"x":1.88,"y":1.66},{"x":2,"y":1.455},{"x":2.12,"y":1.655},{"x":2.38,"y":1.66},{"x":2.5,"y":1.455},{"x":2.62,"y":1.655},{"x":2.88,"y":1.66},{"x":3,"y":1.455},{"x":3.12,"y":1.655},{"x":3.38,"y":1.66},{"x":3.5,"y":1.455},{"x":3.62,"y":1.655},{"x":3.88,"y":1.66},{"x":4,"y":1.455},{"x":4.12,"y":1.655},{"x":4.38,"y":1.66},{"x":4.5,"y":1.455},{"x":4.62,"y":1.655},{"x":4.88,"y":1.66},{"x":5,"y":1.455},{"x":5.12,"y":1.655},{"x":5.38,"y":1.66},{"x":5.5,"y":1.455},{"x":5.62,"y":1.655},{"x":5.88,"y":1.66},{"x":6,"y":1.455},{"x":6.12,"y":1.655},{"x":6.38,"y":1.66},{"x":6.5,"y":1.455},{"x":6.62,"y":1.655},{"x":6.88,"y":1.66},{"x":7,"y":1.455},{"x":7.12,"y":1.655},{"x":7.38,"y":1.66},{"x":7.5,"y":1.455},{"x":7.62,"y":1.655},{"x":7.88,"y":1.66},{"x":8,"y":1.455},{"x":8.12,"y":1.655},{"x":8.38,"y":1.66},{"x":8.5,"y":1.455},{"x":8.62,"y":1.655},{"x":8.88,"y":1.66},{"x":9,"y":1.455},{"x":9.12,"y":1.655},{"x":9.38,"y":1.66},{"x":9.5,"y":1.455},{"x":9.62,"y":1.655},{"x":9.88,"y":1.662},{"x":10,"y":1.46},{"x":10.15,"y":1.67},{"x":10.5,"y":1.69},{"x":10.85,"y":1.69},{"x":11,"y":1.48},{"x":11.15,"y":1.69},{"x":11.5,"y":1.705},{"x":11.85,"y":1.695},{"x":12,"y":1.48},{"x":12.15,"y":1.69},{"x":12.5,"y":1.7},{"x":12.85,"y":1.69},{"x":13,"y":1.47},{"x":13.15,"y":1.685},{"x":13.5,"y":1.69},{"x":13.85,"y":1.675},{"x":14,"y":1.45},{"x":14.15,"y":1.665},{"x":14.5,"y":1.67},{"x":14.85,"y":1.64},{"x":15,"y":1.37},{"x":15.15,"y":1.6},{"x":15.3,"y":1.6},{"x":15.5,"y":1.53},{"x":15.7,"y":1.42},{"x":15.85,"y":1.25},{"x":15.93,"y":1.1}]
},
"concat":[
{"width":519,"height":304,"title":"(a)",
"layer":[
{"encoding":{"x":{"field":"x","type":"quantitative","scale":{"domain":[0,11.5],"nice":false},"axis":{"values":[0,2,4,6,8,10],"format":"~r","title":"y (cm)"}},"y":{"field":"y","type":"quantitative","scale":{"domain":[0.5,1.05],"nice":false,"zero":false},"axis":{"values":[0.5,0.6,0.7,0.8,0.9,1],"format":"~r","title":"Dose (10⁻⁴Gy/MU)"}}},
"layer":[
{"data":{"name":"aF1"},"mark":{"type":"line","clip":true,"strokeWidth":1.5},"encoding":{"color":{"datum":"Film","type":"nominal","scale":{"domain":["Film","Calculated"],"range":["#000000","#0000ff"]},"legend":{"title":null,"orient":"none","legendX":355,"legendY":232,"encode":{"symbols":{"update":{"strokeDash":[{"test":"datum.value === 'Calculated'","value":[2,2]},{"value":[1,0]}]}}}}}}},
{"data":{"name":"aF2"},"mark":{"type":"line","clip":true,"strokeWidth":1.5},"encoding":{"color":{"datum":"Film","type":"nominal"}}},
{"data":{"name":"aF3"},"mark":{"type":"line","clip":true,"strokeWidth":1.5},"encoding":{"color":{"datum":"Film","type":"nominal"}}},
{"data":{"name":"aC1"},"mark":{"type":"line","clip":true,"strokeWidth":2,"strokeDash":[2,2]},"encoding":{"color":{"datum":"Calculated","type":"nominal"}}},
{"data":{"name":"aC2"},"mark":{"type":"line","clip":true,"strokeWidth":2,"strokeDash":[2,2]},"encoding":{"color":{"datum":"Calculated","type":"nominal"}}},
{"data":{"name":"aC3"},"mark":{"type":"line","clip":true,"strokeWidth":2,"strokeDash":[2,2]},"encoding":{"color":{"datum":"Calculated","type":"nominal"}}}
]},
{"data":{"values":[{}]},"mark":{"type":"text","align":"right","baseline":"middle","fontSize":20,"color":"#222"},"encoding":{"x":{"datum":11.1,"type":"quantitative","axis":{"orient":"top","values":[0,2,4,6,8,10],"labels":false,"title":null,"domain":false}},"y":{"datum":0.995,"type":"quantitative","axis":{"orient":"right","values":[0.5,0.6,0.7,0.8,0.9,1],"labels":false,"title":null,"domain":false}},"text":{"value":"HDMLC - Gap 10 mm"}}}
],
"resolve":{"axis":{"x":"independent","y":"independent"}}},
{"width":511,"height":304,"title":"(b)",
"layer":[
{"encoding":{"x":{"field":"x","type":"quantitative","scale":{"domain":[0,16.5],"nice":false},"axis":{"values":[0,2,4,6,8,10,12,14,16],"format":"~r","title":"y (cm)"}},"y":{"field":"y","type":"quantitative","scale":{"domain":[0.7,1.1],"nice":false,"zero":false},"axis":{"values":[0.7,0.75,0.8,0.85,0.9,0.95,1,1.05,1.1],"format":"~r","title":"Dose (10⁻⁴Gy/MU)"}}},
"layer":[
{"data":{"name":"bF1"},"mark":{"type":"line","clip":true,"strokeWidth":1.5},"encoding":{"color":{"datum":"Film","type":"nominal","scale":{"domain":["Film","Calculated"],"range":["#000000","#0000ff"]},"legend":{"title":null,"orient":"none","legendX":335,"legendY":226,"encode":{"symbols":{"update":{"strokeDash":[{"test":"datum.value === 'Calculated'","value":[2,2]},{"value":[1,0]}]}}}}}}},
{"data":{"name":"bF2"},"mark":{"type":"line","clip":true,"strokeWidth":1.5},"encoding":{"color":{"datum":"Film","type":"nominal"}}},
{"data":{"name":"bF3"},"mark":{"type":"line","clip":true,"strokeWidth":1.5},"encoding":{"color":{"datum":"Film","type":"nominal"}}},
{"data":{"name":"bC1"},"mark":{"type":"line","clip":true,"strokeWidth":2,"strokeDash":[2,2]},"encoding":{"color":{"datum":"Calculated","type":"nominal"}}},
{"data":{"name":"bC2"},"mark":{"type":"line","clip":true,"strokeWidth":2,"strokeDash":[2,2]},"encoding":{"color":{"datum":"Calculated","type":"nominal"}}},
{"data":{"name":"bC3"},"mark":{"type":"line","clip":true,"strokeWidth":2,"strokeDash":[2,2]},"encoding":{"color":{"datum":"Calculated","type":"nominal"}}}
]},
{"data":{"values":[{}]},"mark":{"type":"text","align":"right","baseline":"middle","fontSize":20,"color":"#222"},"encoding":{"x":{"datum":15.96,"type":"quantitative","axis":{"orient":"top","values":[0,2,4,6,8,10,12,14,16],"labels":false,"title":null,"domain":false}},"y":{"datum":1.066,"type":"quantitative","axis":{"orient":"right","values":[0.7,0.75,0.8,0.85,0.9,0.95,1,1.05,1.1],"labels":false,"title":null,"domain":false}},"text":{"value":"Millennium MLC - Gap 10 mm"}}}
],
"resolve":{"axis":{"x":"independent","y":"independent"}}},
{"width":519,"height":304,"title":"(c)",
"layer":[
{"encoding":{"x":{"field":"x","type":"quantitative","scale":{"domain":[0,11.5],"nice":false},"axis":{"values":[0,2,4,6,8,10],"format":"~r","title":"y (cm)"}},"y":{"field":"y","type":"quantitative","scale":{"domain":[0.8,1.85],"nice":false,"zero":false},"axis":{"values":[0.8,0.9,1,1.1,1.2,1.3,1.4,1.5,1.6,1.7,1.8],"format":"~r","title":"Dose (10⁻⁴Gy/MU)"}}},
"layer":[
{"data":{"name":"cF1"},"mark":{"type":"line","clip":true,"strokeWidth":1.5},"encoding":{"color":{"datum":"Film","type":"nominal","scale":{"domain":["Film","Calculated"],"range":["#000000","#0000ff"]},"legend":{"title":null,"orient":"none","legendX":355,"legendY":229,"encode":{"symbols":{"update":{"strokeDash":[{"test":"datum.value === 'Calculated'","value":[2,2]},{"value":[1,0]}]}}}}}}},
{"data":{"name":"cF2"},"mark":{"type":"line","clip":true,"strokeWidth":1.5},"encoding":{"color":{"datum":"Film","type":"nominal"}}},
{"data":{"name":"cF3"},"mark":{"type":"line","clip":true,"strokeWidth":1.5},"encoding":{"color":{"datum":"Film","type":"nominal"}}},
{"data":{"name":"cC1"},"mark":{"type":"line","clip":true,"strokeWidth":2,"strokeDash":[2,2]},"encoding":{"color":{"datum":"Calculated","type":"nominal"}}},
{"data":{"name":"cC2"},"mark":{"type":"line","clip":true,"strokeWidth":2,"strokeDash":[2,2]},"encoding":{"color":{"datum":"Calculated","type":"nominal"}}},
{"data":{"name":"cC3"},"mark":{"type":"line","clip":true,"strokeWidth":2,"strokeDash":[2,2]},"encoding":{"color":{"datum":"Calculated","type":"nominal"}}}
]},
{"data":{"values":[{}]},"mark":{"type":"text","align":"right","baseline":"middle","fontSize":20,"color":"#222"},"encoding":{"x":{"datum":11.1,"type":"quantitative","axis":{"orient":"top","values":[0,2,4,6,8,10],"labels":false,"title":null,"domain":false}},"y":{"datum":1.765,"type":"quantitative","axis":{"orient":"right","values":[0.8,0.9,1,1.1,1.2,1.3,1.4,1.5,1.6,1.7,1.8],"labels":false,"title":null,"domain":false}},"text":{"value":"HDMLC - Gap 20 mm"}}}
],
"resolve":{"axis":{"x":"independent","y":"independent"}}},
{"width":511,"height":304,"title":"(d)",
"layer":[
{"encoding":{"x":{"field":"x","type":"quantitative","scale":{"domain":[0,16.5],"nice":false},"axis":{"values":[0,2,4,6,8,10,12,14,16],"format":"~r","title":"y (cm)"}},"y":{"field":"y","type":"quantitative","scale":{"domain":[1.1,1.95],"nice":false,"zero":false},"axis":{"values":[1.1,1.2,1.3,1.4,1.5,1.6,1.7,1.8,1.9],"format":"~r","title":"Dose (10⁻⁴Gy/MU)"}}},
"layer":[
{"data":{"name":"dF1"},"mark":{"type":"line","clip":true,"strokeWidth":1.5},"encoding":{"color":{"datum":"Film","type":"nominal","scale":{"domain":["Film","Calculated"],"range":["#000000","#0000ff"]},"legend":{"title":null,"orient":"none","legendX":356,"legendY":235,"encode":{"symbols":{"update":{"strokeDash":[{"test":"datum.value === 'Calculated'","value":[2,2]},{"value":[1,0]}]}}}}}}},
{"data":{"name":"dF2"},"mark":{"type":"line","clip":true,"strokeWidth":1.5},"encoding":{"color":{"datum":"Film","type":"nominal"}}},
{"data":{"name":"dF3"},"mark":{"type":"line","clip":true,"strokeWidth":1.5},"encoding":{"color":{"datum":"Film","type":"nominal"}}},
{"data":{"name":"dC1"},"mark":{"type":"line","clip":true,"strokeWidth":2,"strokeDash":[2,2]},"encoding":{"color":{"datum":"Calculated","type":"nominal"}}},
{"data":{"name":"dC2"},"mark":{"type":"line","clip":true,"strokeWidth":2,"strokeDash":[2,2]},"encoding":{"color":{"datum":"Calculated","type":"nominal"}}},
{"data":{"name":"dC3"},"mark":{"type":"line","clip":true,"strokeWidth":2,"strokeDash":[2,2]},"encoding":{"color":{"datum":"Calculated","type":"nominal"}}}
]},
{"data":{"values":[{}]},"mark":{"type":"text","align":"right","baseline":"middle","fontSize":20,"color":"#222"},"encoding":{"x":{"datum":16.0,"type":"quantitative","axis":{"orient":"top","values":[0,2,4,6,8,10,12,14,16],"labels":false,"title":null,"domain":false}},"y":{"datum":1.88,"type":"quantitative","axis":{"orient":"right","values":[1.1,1.2,1.3,1.4,1.5,1.6,1.7,1.8,1.9],"labels":false,"title":null,"domain":false}},"text":{"value":"Millennium MLC - Gap 20 mm"}}}
],
"resolve":{"axis":{"x":"independent","y":"independent"}}}
]
}
